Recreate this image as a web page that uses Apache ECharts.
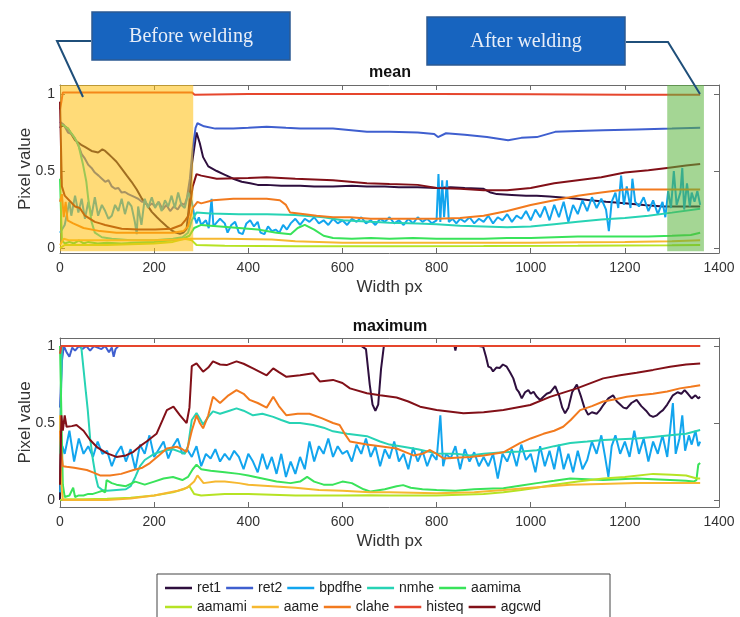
<!DOCTYPE html>
<html><head><meta charset="utf-8">
<script src="https://cdn.jsdelivr.net/npm/echarts@6/dist/echarts.min.js"></script>
<style>html,body{margin:0;padding:0;background:#fff}#c{width:740px;height:617px}</style>
</head><body><div id="c"></div>
<script>
const names = ['ret1','ret2','bpdfhe','nmhe','aamima','aamami','aame','clahe','histeq','agcwd'];
const colors = ['#2e0f3e','#3f5fcf','#12a5ee','#27d3b4','#39e35a','#b6e324','#f6b830','#f27a1e','#e6462d','#821018'];
const yTickValues = [0, 0.5, 1];
const beforeRange = [0, 283];
const afterRange = [1290, 1368];

// ---- mean ----
const meanRet1 = [[0,0.78],[5,0.8],[17,0.775],[32,0.70],[45,0.67],[53,0.656],[67,0.63],[81,0.62],[90,0.64],[96,0.63],[103,0.61],[110,0.59],[120,0.56],[131,0.515],[142,0.47],[152,0.43],[163,0.38],[174,0.32],[185,0.28],[195,0.235],[206,0.2],[216,0.17],[227,0.14],[237,0.115],[246,0.1],[255,0.093],[262,0.1],[269,0.125],[275,0.3],[280,0.54],[290,0.75],[297,0.68],[304,0.59],[315,0.53],[333,0.5],[347,0.48],[368,0.45],[386,0.43],[404,0.42],[420,0.41],[439,0.41],[470,0.405],[510,0.405],[540,0.4],[580,0.4],[620,0.405],[652,0.4],[690,0.4],[720,0.395],[760,0.395],[800,0.39],[830,0.395],[860,0.39],[899,0.385],[915,0.36],[928,0.35],[960,0.345],[990,0.34],[1013,0.34],[1040,0.335],[1060,0.33],[1080,0.325],[1098,0.32],[1126,0.31],[1160,0.3],[1200,0.29],[1240,0.28],[1281,0.27],[1320,0.27],[1360,0.27]];
const meanRet2 = [[0,0.82],[8,0.8],[17,0.75],[25,0.74],[32,0.71],[40,0.66],[46,0.61],[53,0.58],[60,0.54],[67,0.52],[74,0.49],[82,0.47],[89,0.45],[96,0.43],[103,0.44],[110,0.4],[117,0.385],[124,0.39],[131,0.36],[138,0.364],[145,0.35],[152,0.34],[159,0.33],[166,0.32],[174,0.3],[181,0.3],[188,0.27],[195,0.29],[202,0.27],[210,0.3],[218,0.25],[226,0.28],[234,0.24],[242,0.27],[250,0.25],[258,0.29],[265,0.28],[270,0.33],[276,0.45],[282,0.65],[288,0.78],[292,0.81],[306,0.79],[330,0.775],[368,0.776],[400,0.78],[439,0.787],[480,0.78],[510,0.776],[580,0.776],[652,0.755],[700,0.755],[760,0.75],[795,0.74],[803,0.72],[820,0.745],[860,0.735],[907,0.72],[952,0.70],[980,0.715],[1013,0.72],[1052,0.754],[1100,0.76],[1154,0.765],[1225,0.77],[1300,0.775],[1360,0.78]];
const meanBpdfhe = [[0,0.1],[10,0.15],[20,0.3],[24,0.21],[32,0.34],[39,0.23],[46,0.32],[53,0.19],[60,0.3],[67,0.21],[74,0.33],[81,0.21],[89,0.28],[96,0.24],[103,0.19],[110,0.21],[117,0.28],[124,0.24],[131,0.32],[138,0.22],[145,0.30],[152,0.27],[159,0.17],[163,0.09],[166,0.27],[173,0.15],[180,0.32],[187,0.26],[195,0.33],[202,0.26],[209,0.30],[216,0.24],[223,0.31],[230,0.27],[237,0.34],[244,0.26],[251,0.36],[258,0.28],[265,0.26],[273,0.36],[280,0.3],[286,0.2],[290,0.16],[295,0.2],[300,0.15],[310,0.18],[316,0.13],[322,0.32],[326,0.14],[334,0.17],[340,0.19],[350,0.16],[356,0.1],[364,0.15],[372,0.17],[380,0.1],[388,0.09],[396,0.16],[404,0.18],[412,0.14],[420,0.17],[426,0.1],[434,0.09],[442,0.14],[450,0.11],[458,0.12],[466,0.1],[474,0.15],[482,0.12],[490,0.16],[500,0.19],[510,0.15],[520,0.19],[530,0.17],[540,0.2],[550,0.16],[560,0.18],[570,0.15],[580,0.19],[590,0.16],[600,0.18],[610,0.15],[620,0.19],[630,0.17],[640,0.2],[650,0.16],[660,0.18],[670,0.15],[680,0.19],[690,0.17],[700,0.2],[710,0.16],[720,0.18],[730,0.15],[740,0.19],[750,0.16],[760,0.2],[770,0.17],[780,0.19],[790,0.16],[800,0.18],[804,0.48],[808,0.17],[812,0.44],[816,0.2],[822,0.44],[826,0.17],[834,0.19],[842,0.16],[850,0.19],[860,0.17],[870,0.2],[880,0.16],[890,0.19],[900,0.17],[910,0.21],[920,0.16],[930,0.2],[940,0.18],[950,0.22],[960,0.17],[970,0.21],[980,0.19],[990,0.24],[1000,0.18],[1010,0.25],[1020,0.2],[1030,0.27],[1040,0.18],[1050,0.28],[1060,0.2],[1070,0.3],[1080,0.17],[1090,0.28],[1100,0.22],[1110,0.31],[1120,0.24],[1130,0.33],[1140,0.26],[1150,0.32],[1160,0.25],[1166,0.11],[1172,0.3],[1180,0.36],[1186,0.26],[1192,0.47],[1198,0.28],[1204,0.4],[1212,0.26],[1216,0.45],[1222,0.3],[1230,0.27],[1240,0.33],[1250,0.24],[1260,0.31],[1270,0.22],[1280,0.3],[1286,0.2],[1292,0.37],[1298,0.26],[1304,0.5],[1310,0.28],[1318,0.36],[1322,0.52],[1326,0.25],[1332,0.42],[1338,0.27],[1342,0.36],[1348,0.3],[1354,0.37],[1360,0.28]];
const meanNmhe = [[0,0.8],[5,0.8],[17,0.775],[30,0.72],[39,0.67],[49,0.54],[56,0.43],[60,0.32],[67,0.17],[74,0.1],[89,0.07],[110,0.06],[150,0.05],[200,0.05],[240,0.06],[260,0.07],[272,0.1],[280,0.18],[290,0.23],[320,0.225],[380,0.22],[440,0.22],[500,0.215],[560,0.2],[600,0.18],[660,0.17],[700,0.165],[760,0.16],[800,0.155],[850,0.145],[900,0.14],[950,0.135],[1000,0.14],[1050,0.155],[1100,0.17],[1150,0.185],[1200,0.195],[1250,0.21],[1300,0.23],[1360,0.255]];
const meanAamima = [[0,0.45],[4,0.05],[10,0.03],[20,0.04],[30,0.03],[40,0.05],[50,0.03],[60,0.04],[80,0.03],[100,0.035],[130,0.03],[160,0.035],[200,0.04],[240,0.05],[260,0.06],[275,0.08],[285,0.13],[300,0.15],[340,0.14],[380,0.13],[420,0.12],[460,0.1],[490,0.09],[505,0.13],[520,0.15],[540,0.12],[560,0.08],[580,0.065],[620,0.06],[660,0.065],[700,0.06],[750,0.065],[800,0.06],[850,0.06],[900,0.06],[950,0.065],[1000,0.065],[1050,0.07],[1100,0.075],[1150,0.075],[1200,0.075],[1250,0.075],[1300,0.08],[1340,0.085],[1360,0.1]];
const meanAamami = [[0,0.0],[10,0.02],[50,0.02],[100,0.02],[150,0.025],[200,0.03],[240,0.04],[265,0.06],[280,0.05],[290,0.02],[350,0.015],[500,0.012],[700,0.012],[900,0.013],[1100,0.015],[1300,0.018],[1360,0.02]];
const meanAame = [[0,0.02],[8,0.06],[20,0.05],[60,0.05],[120,0.05],[200,0.05],[250,0.055],[280,0.06],[290,0.06],[350,0.06],[450,0.055],[500,0.045],[550,0.04],[600,0.035],[700,0.035],[800,0.035],[900,0.035],[1000,0.035],[1100,0.038],[1200,0.04],[1300,0.045],[1360,0.05]];
const meanClahe = [[0,0.3],[4,0.35],[8,0.2],[12,0.3],[16,0.18],[28,0.16],[50,0.13],[85,0.11],[120,0.1],[160,0.1],[200,0.1],[240,0.1],[262,0.11],[272,0.14],[282,0.26],[292,0.3],[300,0.29],[325,0.31],[368,0.32],[400,0.32],[439,0.32],[467,0.31],[480,0.28],[489,0.23],[520,0.22],[545,0.21],[580,0.2],[616,0.2],[660,0.19],[722,0.19],[800,0.19],[850,0.195],[900,0.21],[950,0.24],[1000,0.28],[1050,0.31],[1100,0.34],[1150,0.36],[1200,0.38],[1250,0.38],[1300,0.38],[1360,0.38]];
const meanHisteq = [[0,0.9],[3,0.95],[6,1.01],[50,1.01],[150,1.01],[280,1.01],[286,0.995],[400,1.0],[600,1.0],[800,1.0],[1000,0.998],[1200,0.995],[1360,0.995]];
const meanAgcwd = [[0,0.95],[4,0.4],[10,0.34],[14,0.34],[32,0.27],[42,0.26],[53,0.21],[74,0.17],[85,0.16],[96,0.15],[131,0.125],[166,0.12],[202,0.12],[237,0.125],[258,0.15],[266,0.18],[273,0.21],[282,0.4],[290,0.48],[300,0.47],[333,0.45],[400,0.455],[439,0.46],[500,0.45],[580,0.44],[652,0.42],[700,0.415],[760,0.41],[800,0.39],[850,0.385],[900,0.375],[950,0.375],[1000,0.39],[1050,0.42],[1100,0.44],[1150,0.46],[1200,0.49],[1250,0.505],[1290,0.52],[1330,0.535],[1360,0.545]];

// ---- maximum ----
const maxRet1 = [[0,0],[3,1],[10,1],[640,1],[650,0.98],[658,0.75],[664,0.62],[670,0.58],[676,0.62],[682,0.85],[688,1],[838,1],[840,0.97],[842,1],[890,1],[899,0.995],[905,0.93],[910,0.866],[915,0.86],[920,0.835],[927,0.86],[934,0.857],[941,0.88],[949,0.866],[956,0.83],[963,0.79],[970,0.72],[975,0.7],[981,0.66],[988,0.7],[995,0.714],[1000,0.69],[1006,0.703],[1013,0.67],[1020,0.65],[1027,0.67],[1034,0.69],[1042,0.7],[1052,0.74],[1060,0.68],[1067,0.6],[1073,0.563],[1080,0.6],[1088,0.7],[1098,0.75],[1106,0.68],[1114,0.6],[1122,0.554],[1130,0.57],[1140,0.56],[1147,0.584],[1155,0.62],[1165,0.66],[1175,0.68],[1183,0.64],[1190,0.62],[1197,0.6],[1204,0.595],[1214,0.63],[1225,0.65],[1235,0.61],[1245,0.58],[1253,0.55],[1260,0.54],[1268,0.55],[1275,0.57],[1281,0.584],[1290,0.62],[1302,0.68],[1312,0.7],[1320,0.69],[1327,0.714],[1334,0.69],[1342,0.66],[1350,0.68],[1356,0.66],[1360,0.67]];
const maxRet2 = [[0,0.6],[4,0.9],[8,1],[14,0.96],[20,0.93],[26,0.99],[32,0.97],[40,1],[48,0.98],[56,1],[64,0.97],[72,1],[80,0.99],[88,0.98],[96,1],[104,0.96],[110,0.99],[114,0.93],[118,0.98],[124,1],[130,1],[1360,1]];
const maxBpdfhe = [[0,0.05],[5,0.35],[10,0.3],[20,0.45],[30,0.25],[40,0.4],[50,0.3],[60,0.35],[70,0.28],[80,0.38],[90,0.3],[100,0.32],[110,0.22],[120,0.3],[130,0.35],[140,0.25],[150,0.33],[160,0.2],[170,0.36],[180,0.3],[190,0.42],[200,0.28],[210,0.33],[220,0.38],[230,0.27],[240,0.35],[250,0.4],[260,0.3],[270,0.33],[280,0.28],[290,0.35],[300,0.22],[310,0.3],[320,0.27],[330,0.33],[340,0.25],[350,0.3],[360,0.26],[370,0.32],[380,0.28],[390,0.2],[400,0.3],[410,0.25],[420,0.18],[430,0.3],[440,0.2],[450,0.28],[460,0.17],[470,0.3],[480,0.15],[490,0.25],[500,0.17],[510,0.28],[520,0.2],[530,0.38],[540,0.25],[550,0.35],[560,0.3],[570,0.4],[580,0.28],[590,0.35],[600,0.3],[610,0.32],[620,0.25],[630,0.36],[640,0.3],[650,0.4],[660,0.28],[670,0.35],[680,0.22],[690,0.33],[700,0.27],[710,0.38],[720,0.25],[730,0.3],[740,0.2],[750,0.34],[760,0.25],[770,0.32],[780,0.22],[790,0.3],[800,0.26],[808,0.55],[814,0.22],[820,0.3],[830,0.27],[840,0.35],[850,0.2],[860,0.33],[870,0.25],[880,0.31],[890,0.22],[900,0.28],[910,0.22],[920,0.3],[930,0.14],[940,0.3],[950,0.25],[960,0.33],[970,0.22],[980,0.36],[990,0.26],[1000,0.3],[1010,0.18],[1020,0.35],[1030,0.22],[1040,0.32],[1050,0.2],[1060,0.36],[1070,0.2],[1080,0.3],[1090,0.18],[1100,0.32],[1110,0.2],[1120,0.26],[1130,0.38],[1140,0.3],[1150,0.42],[1158,0.28],[1165,0.15],[1172,0.35],[1180,0.42],[1190,0.3],[1200,0.38],[1210,0.28],[1220,0.45],[1230,0.3],[1240,0.4],[1250,0.25],[1260,0.38],[1270,0.3],[1280,0.42],[1290,0.28],[1296,0.45],[1302,0.63],[1308,0.3],[1316,0.4],[1322,0.55],[1328,0.32],[1336,0.42],[1342,0.36],[1350,0.45],[1356,0.35],[1360,0.38]];
const maxNmhe = [[0,0.3],[4,1],[10,1],[45,1],[50,0.85],[55,0.7],[59,0.584],[64,0.4],[70,0.26],[76,0.15],[81,0.087],[90,0.065],[100,0.06],[120,0.065],[140,0.07],[150,0.09],[160,0.15],[170,0.22],[180,0.26],[200,0.3],[220,0.32],[240,0.33],[255,0.313],[265,0.3],[272,0.35],[280,0.52],[290,0.565],[297,0.53],[304,0.49],[315,0.54],[325,0.576],[340,0.56],[360,0.58],[375,0.595],[390,0.58],[410,0.55],[430,0.56],[453,0.54],[470,0.52],[488,0.5],[510,0.5],[538,0.487],[560,0.47],[580,0.446],[610,0.43],[652,0.415],[680,0.38],[700,0.36],[729,0.346],[760,0.33],[800,0.303],[840,0.3],[871,0.29],[900,0.3],[942,0.31],[980,0.315],[1013,0.324],[1050,0.35],[1084,0.37],[1120,0.38],[1154,0.39],[1190,0.395],[1225,0.4],[1260,0.41],[1296,0.42],[1330,0.43],[1360,0.455]];
const maxAamima = [[0,1],[3,1],[6,0.1],[10,0.02],[20,0.03],[28,0.08],[32,0.02],[40,0.03],[50,0.03],[60,0.04],[70,0.04],[80,0.05],[90,0.06],[96,0.05],[99,0.13],[110,0.11],[120,0.1],[140,0.09],[160,0.12],[180,0.1],[200,0.12],[220,0.14],[240,0.15],[260,0.13],[272,0.15],[282,0.2],[290,0.23],[300,0.2],[320,0.19],[350,0.18],[380,0.17],[400,0.16],[430,0.14],[460,0.12],[490,0.11],[510,0.12],[525,0.15],[540,0.12],[560,0.1],[580,0.1],[600,0.12],[620,0.11],[645,0.07],[660,0.055],[690,0.07],[715,0.09],[729,0.097],[745,0.08],[770,0.07],[800,0.065],[840,0.06],[880,0.07],[920,0.075],[942,0.076],[980,0.095],[1013,0.11],[1050,0.125],[1084,0.14],[1120,0.135],[1154,0.13],[1190,0.135],[1225,0.14],[1260,0.135],[1296,0.13],[1330,0.125],[1346,0.12],[1352,0.13],[1356,0.23],[1360,0.24]];
const maxAamami = [[0,0],[10,0.005],[50,0.005],[100,0.008],[150,0.015],[200,0.03],[240,0.05],[262,0.07],[275,0.09],[285,0.04],[300,0.03],[350,0.04],[400,0.04],[450,0.035],[500,0.03],[550,0.03],[600,0.03],[659,0.032],[700,0.03],[750,0.03],[800,0.03],[850,0.035],[900,0.04],[942,0.05],[980,0.065],[1013,0.08],[1050,0.1],[1100,0.12],[1154,0.14],[1200,0.15],[1260,0.17],[1300,0.165],[1330,0.16],[1353,0.14],[1360,0.14]];
const maxAame = [[0,0.55],[3,0.1],[6,0],[100,0.0],[150,0.01],[200,0.03],[250,0.06],[270,0.08],[285,0.12],[292,0.16],[305,0.11],[330,0.12],[350,0.12],[380,0.11],[400,0.1],[450,0.09],[500,0.08],[550,0.065],[600,0.06],[659,0.05],[700,0.05],[800,0.045],[880,0.05],[942,0.065],[1000,0.08],[1084,0.1],[1150,0.105],[1225,0.11],[1300,0.11],[1360,0.11]];
const maxClahe = [[0,0.45],[3,0.3],[6,0.22],[14,0.216],[30,0.21],[57,0.195],[70,0.18],[85,0.16],[106,0.16],[130,0.17],[156,0.195],[175,0.21],[191,0.24],[210,0.29],[227,0.335],[248,0.346],[260,0.33],[269,0.313],[280,0.45],[290,0.55],[297,0.5],[304,0.466],[315,0.55],[325,0.67],[340,0.63],[358,0.68],[375,0.714],[390,0.69],[403,0.65],[420,0.63],[439,0.6],[453,0.67],[465,0.61],[481,0.55],[505,0.56],[530,0.56],[557,0.53],[580,0.5],[594,0.487],[605,0.43],[616,0.38],[652,0.36],[680,0.35],[715,0.335],[735,0.31],[751,0.29],[770,0.3],[786,0.325],[800,0.3],[815,0.27],[840,0.275],[871,0.28],[900,0.29],[942,0.31],[977,0.37],[1000,0.4],[1027,0.43],[1050,0.45],[1069,0.476],[1085,0.52],[1105,0.584],[1130,0.61],[1154,0.64],[1180,0.655],[1204,0.67],[1230,0.68],[1260,0.69],[1290,0.705],[1317,0.725],[1340,0.735],[1360,0.746]];
const maxHisteq = [[0,0.95],[3,1],[400,1],[800,1],[1200,1],[1360,1]];
const maxAgcwd = [[0,0.1],[3,0.55],[6,0.45],[10,0.55],[14,0.476],[25,0.48],[35,0.487],[50,0.45],[64,0.39],[80,0.34],[99,0.305],[120,0.28],[140,0.29],[156,0.313],[170,0.35],[184,0.38],[205,0.43],[218,0.52],[227,0.584],[241,0.606],[255,0.55],[269,0.5],[275,0.6],[280,0.87],[290,0.887],[304,0.833],[315,0.86],[325,0.9],[340,0.88],[354,0.876],[375,0.9],[390,0.885],[410,0.855],[439,0.81],[453,0.855],[465,0.83],[481,0.8],[510,0.81],[538,0.823],[552,0.77],[580,0.78],[600,0.76],[616,0.725],[652,0.693],[680,0.68],[715,0.666],[740,0.64],[765,0.606],[800,0.584],[857,0.563],[900,0.57],[942,0.584],[999,0.617],[1041,0.67],[1098,0.725],[1154,0.79],[1190,0.81],[1225,0.827],[1260,0.845],[1296,0.866],[1330,0.88],[1360,0.887]];

const meanSeries = [meanRet1, meanRet2, meanBpdfhe, meanNmhe, meanAamima, meanAamami, meanAame, meanClahe, meanHisteq, meanAgcwd];
const maxSeries = [maxRet1, maxRet2, maxBpdfhe, maxNmhe, maxAamima, maxAamami, maxAame, maxClahe, maxHisteq, maxAgcwd];

const FONT = '"Liberation Sans", Arial, Helvetica, sans-serif';
const frameColor = '#6a6a6a';
const textColor = '#333';

function xAx(grid, pos) {
  const main = pos === 'bottom';
  return {
    type: 'value', gridIndex: grid, position: pos, min: 0, max: 1400, interval: 200,
    name: main ? 'Width px' : '', nameLocation: 'middle', nameGap: 26, nameMoveOverlap: false,
    nameTextStyle: {fontFamily: FONT, fontSize: 17, color: textColor},
    axisLine: {show: true, onZero: false, lineStyle: {color: frameColor, width: 1}},
    axisTick: {show: true, inside: true, length: 5, lineStyle: {color: frameColor}},
    axisLabel: {show: main, fontFamily: FONT, fontSize: 14, color: textColor, margin: 8, formatter: v => String(v)},
    splitLine: {show: false}
  };
}
function yAx(grid, pos, mn, mx) {
  const main = pos === 'left';
  return {
    type: 'value', gridIndex: grid, position: pos, min: mn, max: mx,
    name: main ? 'Pixel value' : '', nameLocation: 'middle', nameGap: 26, nameRotate: 90, nameMoveOverlap: false,
    nameTextStyle: {fontFamily: FONT, fontSize: 17, color: textColor},
    axisLine: {show: true, onZero: false, lineStyle: {color: frameColor, width: 1}},
    axisTick: {show: true, inside: true, length: 5, customValues: yTickValues, lineStyle: {color: frameColor}},
    axisLabel: {show: main, customValues: yTickValues, fontFamily: FONT, fontSize: 14, color: textColor, margin: 5},
    splitLine: {show: false}
  };
}

const series = [];
names.forEach((n, i) => {
  series.push({name: n, type: 'line', xAxisIndex: 0, yAxisIndex: 0, data: meanSeries[i],
    symbol: 'none', showSymbol: false, lineStyle: {width: 2, color: colors[i]},
    itemStyle: {color: colors[i]}, emphasis: {disabled: true}, z: 2});
});
names.forEach((n, i) => {
  series.push({name: n, type: 'line', xAxisIndex: 2, yAxisIndex: 2, data: maxSeries[i],
    symbol: 'none', showSymbol: false, lineStyle: {width: 2, color: colors[i]},
    itemStyle: {color: colors[i]}, emphasis: {disabled: true}, z: 2});
});
series.push({name: 'regions', type: 'line', xAxisIndex: 0, yAxisIndex: 0, data: [], z: 10,
  symbol: 'none', silent: true,
  markArea: {silent: true, z: 10, data: [
    [{coord: [beforeRange[0], -0.02], itemStyle: {color: 'rgba(255,190,10,0.55)'}}, {coord: [beforeRange[1], 1.058]}],
    [{coord: [afterRange[0], -0.02], itemStyle: {color: 'rgba(90,180,60,0.55)'}}, {coord: [afterRange[1], 1.058]}]
  ]}
});

function legendRow(items, top) {
  return {data: items, left: 165, top: top, padding: 0, orient: 'horizontal', icon: 'rect',
    itemWidth: 27, itemHeight: 2.5, itemGap: 5, selectedMode: false,
    textStyle: {fontFamily: FONT, fontSize: 14, color: '#222', width: 55}};
}

const chart = echarts.init(document.getElementById('c'));
chart.setOption({
  animation: false,
  backgroundColor: '#fff',
  grid: [
    {left: 60, right: 21, top: 85, height: 168},
    {left: 60, right: 21, top: 338, height: 169}
  ],
  xAxis: [xAx(0, 'bottom'), xAx(0, 'top'), xAx(1, 'bottom'), xAx(1, 'top')],
  yAxis: [yAx(0, 'left', -0.032, 1.058), yAx(0, 'right', -0.032, 1.058), yAx(1, 'left', -0.045, 1.052), yAx(1, 'right', -0.045, 1.052)],
  legend: [legendRow(names.slice(0, 5), 581), legendRow(names.slice(5), 600)],
  series: series,
  graphic: [
    {type: 'rect', shape: {x: 157, y: 574, width: 453, height: 50}, style: {fill: '#fff', stroke: '#444', lineWidth: 1}, z: -1},
    {type: 'text', x: 390, y: 73, style: {text: 'mean', font: 'bold 16px ' + FONT, fill: '#111', textAlign: 'center', textVerticalAlign: 'middle', align: 'center', verticalAlign: 'middle'}},
    {type: 'text', x: 390, y: 327, style: {text: 'maximum', font: 'bold 16px ' + FONT, fill: '#111', textAlign: 'center', textVerticalAlign: 'middle', align: 'center', verticalAlign: 'middle'}},
    {type: 'polyline', shape: {points: [[91, 41], [57, 41], [83, 97]]}, style: {stroke: '#1f4f7a', lineWidth: 2, fill: null}, z: 100},
    {type: 'rect', shape: {x: 92, y: 12, width: 198, height: 48}, style: {fill: '#1764bf', stroke: '#2c5a92', lineWidth: 1.5}, z: 100},
    {type: 'text', x: 191, y: 37, style: {text: 'Before welding', font: '20px "Liberation Serif", "Times New Roman", serif', fill: '#e8eef8', textAlign: 'center', textVerticalAlign: 'middle', align: 'center', verticalAlign: 'middle'}, z: 101},
    {type: 'polyline', shape: {points: [[626, 42], [668, 42], [700, 94]]}, style: {stroke: '#1f4f7a', lineWidth: 2, fill: null}, z: 100},
    {type: 'rect', shape: {x: 427, y: 17, width: 198, height: 48}, style: {fill: '#1764bf', stroke: '#2c5a92', lineWidth: 1.5}, z: 100},
    {type: 'text', x: 526, y: 42, style: {text: 'After welding', font: '20px "Liberation Serif", "Times New Roman", serif', fill: '#e8eef8', textAlign: 'center', textVerticalAlign: 'middle', align: 'center', verticalAlign: 'middle'}, z: 101}
  ]
});
</script></body></html>
